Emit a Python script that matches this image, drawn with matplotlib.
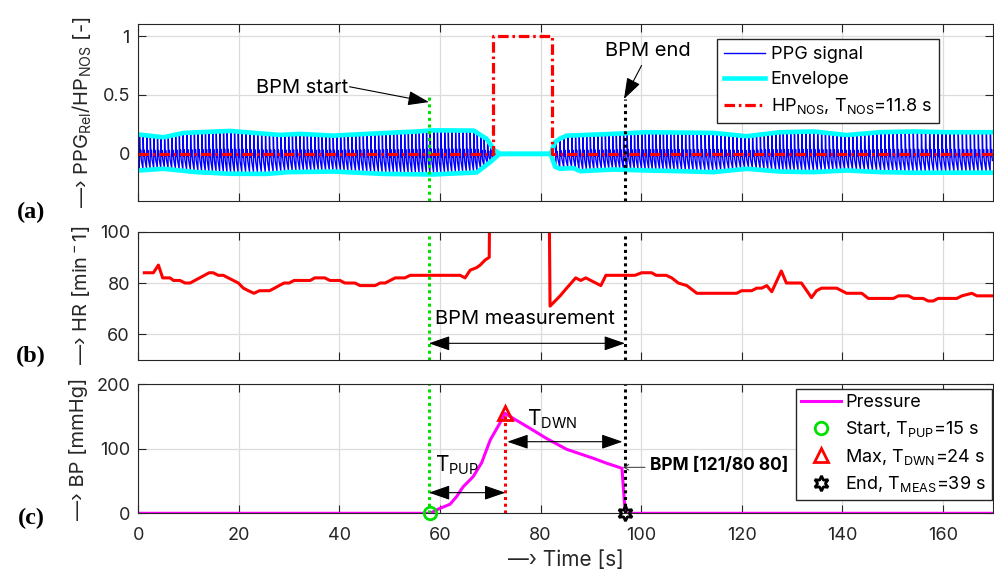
import numpy as np
import matplotlib
matplotlib.use("Agg")
import matplotlib.pyplot as plt

FONT = 'Inter'
plt.rcParams['font.family'] = [FONT, 'DejaVu Sans']
plt.rcParams['mathtext.fontset'] = 'custom'
plt.rcParams['mathtext.rm'] = FONT
plt.rcParams['mathtext.it'] = FONT + ':italic'
plt.rcParams['mathtext.bf'] = FONT + ':bold'

# ---- values ----
x_ticks = [0, 20, 40, 60, 80, 100, 120, 140, 160]

bpm_start = 57.8      # s
bpm_end = 96.8        # s
bp_max_time = 73.0    # s
bp_max = 155          # mmHg

# high pressure (NOS) flag
nos_t = [0, 70.5, 70.5, 82.3, 82.3, 170]
nos_v = [0, 0, 1, 1, 0, 0]

# PPG envelope, upper and lower
env_up_t = [0, 5.0, 9.0, 18.2, 28.2, 32.2, 38.8, 45.5, 55.4, 58.6, 66.7, 69.3, 70.9, 72.0,
            82.0, 82.9, 83.9, 85.2, 94.5, 101.1, 114.4, 121.0, 127.6, 134.3, 140.9, 147.5,
            154.2, 160.8, 167.4, 170]
env_up_v = [0.165, 0.141, 0.178, 0.195, 0.161, 0.17, 0.155, 0.17, 0.19, 0.2, 0.198, 0.127, 0.028, 0.0,
            0.0, 0.1, 0.13, 0.155, 0.17, 0.184, 0.178, 0.15, 0.184, 0.19, 0.16, 0.184,
            0.19, 0.184, 0.184, 0.184]
env_lo_t = [0, 5.0, 11.6, 18.2, 25.5, 30.0, 38.8, 48.7, 58.6, 67.3, 70.0, 71.6, 72.0,
            82.0, 82.9, 83.9, 86.5, 87.9, 94.5, 101.1, 107.7, 114.4, 121.0, 127.6, 134.3,
            140.9, 147.5, 154.2, 160.8, 170]
env_lo_v = [-0.141, -0.127, -0.155, -0.169, -0.17, -0.155, -0.15, -0.17, -0.175, -0.158, -0.07, -0.01, 0.0,
            0.0, -0.11, -0.127, -0.12, -0.147, -0.133, -0.141, -0.147, -0.155, -0.127, -0.15, -0.155,
            -0.141, -0.155, -0.16, -0.16, -0.16]

# one PPG pulse, as fraction of the beat and of the envelope
pulse_phase = [0.0, 0.08, 0.22, 0.38, 0.55]
pulse_level = [-0.9, 0.92, -0.15, 0.2, -0.35]
ppg_pause = (71.6, 83.0)

# heart rate [1/min]
hr_t = [1.2, 3.0, 4.0, 4.85, 6.3, 7.0, 8.3, 9.3, 10.3, 14.1,
        14.9, 15.9, 16.9, 17.9, 18.9, 19.9, 20.9, 21.9, 23.0, 24.1,
        26.1, 27.1, 28.0, 29.0, 30.0, 31.0, 34.2, 35.1, 37.1, 38.1,
        40.1, 41.1, 43.1, 44.1, 47.1, 48.1, 49.1, 50.1, 51.1, 53.0,
        54.1, 64.0, 65.0, 66.0, 67.3, 68.0, 69.0, 69.8, 70.0, 81.6,
        81.9, 83.9, 85.2, 87.0, 88.0, 89.0, 92.0, 93.0, 98.8, 100.1,
        102.1, 103.0, 105.0, 106.1, 107.4, 109.1, 111.1, 119.0, 120.0, 122.0,
        123.0, 124.0, 125.0, 126.0, 127.9, 128.9, 131.9, 133.1, 133.9, 134.9,
        135.9, 138.9, 140.9, 143.9, 145.2, 150.2, 151.2, 153.2, 154.2, 156.1,
        157.1, 158.1, 159.1, 162.8, 163.8, 165.8, 166.8, 170.0]
hr_v = [84, 84, 87, 82, 82, 81, 81, 80, 80, 84,
        84, 83, 83, 82, 81, 80, 78, 77, 76, 77,
        77, 78, 79, 80, 80, 81, 81, 82, 82, 81,
        81, 80, 80, 79, 79, 80, 80, 81, 82, 82,
        83, 83, 82, 85, 86, 87, 89, 90, 140, 140,
        71, 75, 78, 82, 81, 82, 79, 83, 83, 84,
        84, 83, 83, 82, 80, 79, 76, 76, 77, 77,
        78, 78, 79, 76.6, 84.7, 80, 80, 76.6, 74.3, 77,
        78, 78, 76, 76, 74, 74, 75, 75, 74, 74,
        73, 73, 74, 74, 75, 76, 75, 75]

# cuff pressure [mmHg]
bp_t = [0, 58.0, 60.0, 62.0, 63.3, 64.6, 66.6, 68.3, 70.0, 71.9, 72.9,
        74.6, 77.9, 81.2, 85.2, 90.5, 93.2, 96.2, 96.8, 97.1, 170]
bp_v = [0, 0, 7.7, 14, 25.8, 41, 56.8, 78.5, 113.7, 139.5, 155,
        147, 131.8, 116, 99.2, 85.3, 77.5, 69.8, 5, 0, 0]


def ppg_trace():
    """PPG as a train of pulses: beat length from HR, height from the envelope."""
    ts, vs = [], []
    t = 0.2
    while t < 170:
        if ppg_pause[0] < t < ppg_pause[1]:
            ts += [t, ppg_pause[1]]
            vs += [0, 0]
            t = ppg_pause[1]
            continue
        period = 60.0 / min(np.interp(t, hr_t, hr_v), 95)
        up = np.interp(t, env_up_t, env_up_v)
        lo = -np.interp(t, env_lo_t, env_lo_v)
        for ph, lv in zip(pulse_phase, pulse_level):
            ts.append(t + ph * period)
            vs.append(lv * up if lv > 0 else lv * lo)
        t += period
    return ts, vs


W, H = 995, 574
fig = plt.figure(figsize=(W / 100, H / 100), dpi=100)


def px_axes(left, top, right, bottom):
    return fig.add_axes([left / W, 1 - bottom / H, (right - left) / W, (bottom - top) / H])


ax_a = px_axes(138.3, 24.3, 993, 201)
ax_b = px_axes(138.3, 231.7, 993, 360)
ax_c = px_axes(138.3, 384.3, 993, 513.3)

GRAY = '0.15'
for ax in (ax_a, ax_b, ax_c):
    ax.set_xlim(0, 170)
    ax.set_xticks(x_ticks)
    ax.grid(True, color='#dcdcdc', lw=0.9)
    ax.set_axisbelow(True)
    ax.tick_params(direction='in', top=True, right=True, length=6, width=0.8,
                   labelsize=13, colors=GRAY)
    ax.tick_params(axis='x', pad=10)
    ax.tick_params(axis='y', pad=6)
    for s in ax.spines.values():
        s.set_color(GRAY)
        s.set_linewidth(0.8)
ax_a.tick_params(labelbottom=False)
ax_b.tick_params(labelbottom=False)

head = 'head_length=1.3,head_width=0.45'
one_way = dict(arrowstyle='-|>,' + head, color='k', lw=0.8, shrinkA=0, shrinkB=0, mutation_scale=10)
two_way = dict(arrowstyle='<|-|>,' + head, color='k', lw=0.8, shrinkA=0, shrinkB=0, mutation_scale=10)
LAB = 14.5
ANN = 14.5
LEG = 13

# ---- (a) PPG ----
ppg_t, ppg_v = ppg_trace()
ax_a.plot(ppg_t, ppg_v, color='#0000ff', lw=1.0, label='PPG signal')
ax_a.plot(env_up_t, env_up_v, color='#00ffff', lw=3.3, label='Envelope')
ax_a.plot(env_lo_t, env_lo_v, color='#00ffff', lw=3.3)
ax_a.plot(nos_t, nos_v, color='#ff0000', lw=2.3, ls=(0, (3.3, 1.2, 0.8, 1.2)),
          label=r'HP$_{\rm NOS}$, T$_{\rm NOS}$=11.8 s')
ax_a.plot([bpm_start, bpm_start], [-0.4, 0.5], color='#00e000', lw=2.2, ls=(0, (1, 1.2)))
ax_a.plot([bpm_end, bpm_end], [-0.4, 0.47], color='k', lw=2.2, ls=(0, (1, 1.2)))
ax_a.set_ylim(-0.4, 1.1)
ax_a.set_yticks([0, 0.5, 1])
ax_a.set_yticklabels(['0', '0.5', '1'])
ax_a.set_ylabel(r'—› PPG$_{\rm Rel}$/HP$_{\rm NOS}$ [-]', fontsize=LAB, color=GRAY, labelpad=6)
ax_a.text(32.5, 0.557, 'BPM start', fontsize=ANN, ha='center', va='center')
ax_a.annotate('', xy=(bpm_start, 0.44), xytext=(42.0, 0.57), arrowprops=one_way)
ax_a.text(101.3, 0.875, 'BPM end', fontsize=ANN, ha='center', va='center')
ax_a.annotate('', xy=(96.6, 0.466), xytext=(100.1, 0.75), arrowprops=one_way)
ax_a.legend(loc='upper left', bbox_to_anchor=(717 / W, 1 - 39 / H), bbox_transform=fig.transFigure,
            borderaxespad=0, fontsize=LEG, handlelength=2.3, handletextpad=0.3,
            labelspacing=0.45, borderpad=0.38, fancybox=False, framealpha=1,
            edgecolor=GRAY)

# ---- (b) heart rate ----
ax_b.plot(hr_t, hr_v, color='#ff0000', lw=2.2)
ax_b.axvline(bpm_start, color='#00e000', lw=2.2, ls=(0, (1, 1.2)))
ax_b.axvline(bpm_end, color='k', lw=2.2, ls=(0, (1, 1.2)))
ax_b.set_ylim(50, 100)
ax_b.set_yticks([60, 80, 100])
ax_b.set_ylabel(r'—› HR [min$^{\rm -}$1]', fontsize=LAB, color=GRAY, labelpad=6)
ax_b.text(77, 65.8, 'BPM measurement', fontsize=ANN, ha='center', va='center')
ax_b.annotate('', xy=(bpm_start, 56.5), xytext=(bpm_end, 56.5), arrowprops=two_way)

# ---- (c) cuff pressure ----
ax_c.plot(bp_t, bp_v, color='#ff00ff', lw=2.2, label='Pressure')
ax_c.plot([bpm_start, bpm_start], [0, 200], color='#00e000', lw=2.2, ls=(0, (1, 1.2)))
ax_c.plot([bpm_end, bpm_end], [0, 200], color='k', lw=2.2, ls=(0, (1, 1.2)))
ax_c.plot([bp_max_time, bp_max_time], [0, bp_max], color='#ff0000', lw=2.2, ls=(0, (1, 1.2)))
ax_c.plot([58.0], [0], ls='none', marker='o', ms=9, mfc='none', mec='#00e000', mew=2,
          label=r'Start, T$_{\rm PUP}$=15 s', clip_on=False, zorder=5)
ax_c.plot([bp_max_time], [bp_max], ls='none', marker='^', ms=10, mfc='none', mec='#ff0000', mew=2,
          label=r'Max, T$_{\rm DWN}$=24 s', zorder=5)
ax_c.plot([bpm_end], [0], ls='none', marker=(6, 1, 0), ms=11, mfc='none', mec='k', mew=2,
          label=r'End, T$_{\rm MEAS}$=39 s', clip_on=False, zorder=5)
ax_c.set_ylim(0, 200)
ax_c.set_yticks([0, 100, 200])
ax_c.set_ylabel('—› BP [mmHg]', fontsize=LAB, color=GRAY, labelpad=6)
ax_c.set_xlabel('—› Time [s]', fontsize=15, color=GRAY, labelpad=4)

ax_c.annotate('', xy=(bpm_start, 32), xytext=(bp_max_time, 32), arrowprops=two_way)
ax_c.text(59.0, 64.5, r'T$_{\rm PUP}$', fontsize=15, ha='left', va='baseline')
ax_c.annotate('', xy=(73.4, 111), xytext=(96.3, 111), arrowprops=two_way)
ax_c.text(77.3, 137, r'T$_{\rm DWN}$', fontsize=15, ha='left', va='baseline')
ax_c.annotate('', xy=(96.4, 71.3), xytext=(100.8, 71.3),
              arrowprops=dict(arrowstyle='->,head_length=0.35,head_width=0.2', color='0.2', lw=0.7,
                              shrinkA=0, shrinkB=0, mutation_scale=10))
ax_c.text(101.8, 73.8, 'BPM [121/80 80]', fontsize=12.5, weight='bold', ha='left', va='center')
ax_c.legend(loc='upper left', bbox_to_anchor=(795.7 / W, 1 - 389 / H), bbox_transform=fig.transFigure,
            borderaxespad=0, fontsize=LEG, handlelength=2.2, handletextpad=0.25,
            labelspacing=0.42, borderpad=0.3, fancybox=False, framealpha=1,
            edgecolor=GRAY)

# panel letters
for letter, ypx in (('(a)', 212), ('(b)', 356), ('(c)', 518)):
    fig.text(31 / W, 1 - ypx / H, letter, family='Liberation Serif', weight='bold', fontsize=17.5,
             ha='center', va='center')

fig.savefig('out.png', dpi=100)
